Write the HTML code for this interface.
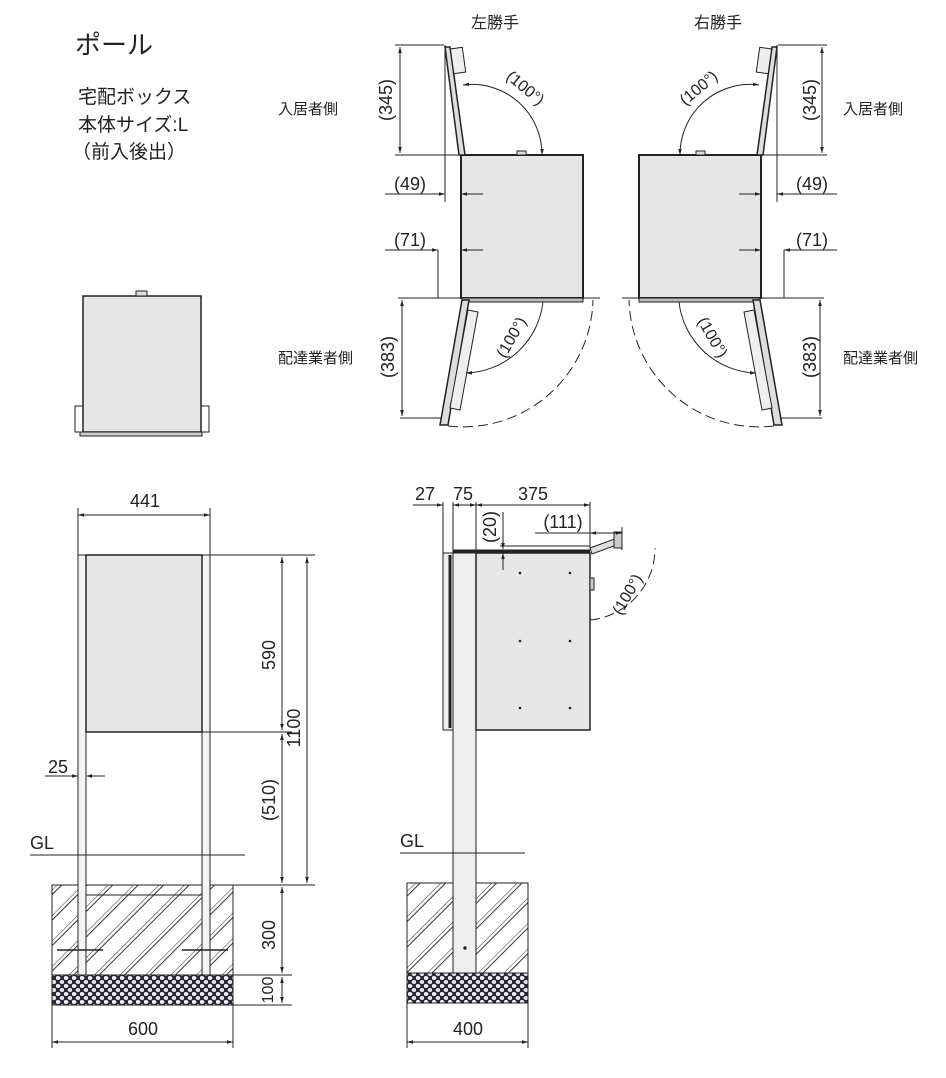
<!DOCTYPE html>
<html><head><meta charset="utf-8"><style>
html,body{margin:0;padding:0;background:#fff}
svg{display:block}
text{font-family:"Liberation Sans","Noto Sans CJK JP",sans-serif;fill:#222}
</style></head><body>
<svg width="946" height="1078" viewBox="0 0 946 1078" xmlns="http://www.w3.org/2000/svg">
<defs>
<marker id="a" viewBox="0 0 10 10" refX="10" refY="5" markerWidth="6" markerHeight="6" orient="auto-start-reverse"><path d="M0,2 L10,5 L0,8 z" fill="#222"/></marker>
<pattern id="h" width="18" height="18" patternUnits="userSpaceOnUse" patternTransform="rotate(45)">
<line x1="0" y1="0" x2="0" y2="18" stroke="#333" stroke-width="1"/><line x1="3.5" y1="0" x2="3.5" y2="18" stroke="#333" stroke-width="1"/>
</pattern>
<pattern id="g" width="8" height="8" patternUnits="userSpaceOnUse">
<rect width="8" height="8" fill="#2a2838"/>
<ellipse cx="2" cy="2" rx="2.4" ry="2" fill="#f0eef4"/><ellipse cx="6" cy="6" rx="2.4" ry="2" fill="#e4e2ea"/>
</pattern>
</defs>
<g stroke="#222" fill="none" stroke-width="1">
<text x="75" y="54" font-size="26" stroke="none">ポール</text>
<text x="78" y="103" font-size="19" stroke="none">宅配ボックス</text>
<text x="78" y="131" font-size="19" stroke="none">本体サイズ:L</text>
<text x="72" y="158" font-size="19" stroke="none">（前入後出）</text>
<text x="471" y="28" font-size="16" stroke="none">左勝手</text>
<text x="694" y="28" font-size="16" stroke="none">右勝手</text>
<text x="278" y="114" font-size="15" stroke="none">入居者側</text>
<text x="278" y="363" font-size="15" stroke="none">配達業者側</text>
<text x="843" y="114" font-size="15" stroke="none">入居者側</text>
<text x="843" y="363" font-size="15" stroke="none">配達業者側</text>

<rect x="83" y="296" width="118" height="136" fill="#e6e6e6" stroke-width="1.5"/>
<rect x="136" y="291" width="11" height="5" fill="#ddd"/>
<rect x="75" y="406" width="8" height="26"/><rect x="201" y="406" width="8" height="26"/>
<rect x="80" y="432" width="122" height="4" fill="#ccc"/>

<g id="plan">
<rect x="461" y="155" width="122" height="143" fill="#e6e6e6" stroke-width="2"/>
<rect x="517" y="151" width="9" height="4" fill="#ddd"/>
<polygon points="459,155 465,155 450,47 445,47" fill="#ddd" stroke-width="1.5"/>
<rect x="452" y="48" width="12" height="25" transform="rotate(-8 458 60)" fill="#eee"/>
<path d="M463,85 A70,70 0 0 1 542,155" marker-start="url(#a)" marker-end="url(#a)"/>
<line x1="395" y1="45" x2="444" y2="45"/><line x1="395" y1="155" x2="461" y2="155"/>
<line x1="400" y1="47" x2="400" y2="153" marker-start="url(#a)" marker-end="url(#a)"/>
<line x1="445" y1="45" x2="445" y2="202"/>
<line x1="385" y1="194" x2="445" y2="194" marker-end="url(#a)"/>
<line x1="483" y1="194" x2="461" y2="194" marker-end="url(#a)"/>
<line x1="438" y1="250" x2="438" y2="298"/>
<line x1="385" y1="250" x2="438" y2="250" marker-end="url(#a)"/>
<line x1="483" y1="250" x2="461" y2="250" marker-end="url(#a)"/>
<line x1="398" y1="298" x2="600" y2="298"/>
<rect x="462" y="298" width="121" height="4" fill="#bbb"/>
<polygon points="462,300 469,300 448,425 440,425" fill="#ddd" stroke-width="1.5"/>
<polygon points="468,310 478,312 460,410 450,408" fill="#eee"/>
<line x1="400" y1="418" x2="442" y2="418"/>
<line x1="402" y1="300" x2="402" y2="416" marker-start="url(#a)" marker-end="url(#a)"/>
<path d="M448,426 A130,130 0 0 0 593,300" stroke-dasharray="10,5"/>
<path d="M466,373 A80,80 0 0 0 543,302" marker-start="url(#a)"/>
</g>
<g transform="matrix(-1,0,0,1,1222,0)">
<use href="#plan"/>
</g>
<g stroke="none" font-size="18">
<text transform="translate(392,100) rotate(-90)" text-anchor="middle">(345)</text>
<text transform="translate(394,357) rotate(-90)" text-anchor="middle">(383)</text>
<text transform="translate(816,100) rotate(-90)" text-anchor="middle">(345)</text>
<text transform="translate(816,357) rotate(-90)" text-anchor="middle">(383)</text>
<text x="410" y="190" text-anchor="middle">(49)</text>
<text x="410" y="246" text-anchor="middle">(71)</text>
<text x="812" y="190" text-anchor="middle">(49)</text>
<text x="812" y="246" text-anchor="middle">(71)</text>
<text font-size="16" transform="translate(522,92) rotate(40)" text-anchor="middle">(100°)</text>
<text font-size="16" transform="translate(702,92) rotate(-40)" text-anchor="middle">(100°)</text>
<text font-size="16" transform="translate(516,340) rotate(-60)" text-anchor="middle">(100°)</text>
<text font-size="16" transform="translate(708,340) rotate(60)" text-anchor="middle">(100°)</text>
</g>

<rect x="52" y="885" width="181" height="90" fill="url(#h)"/>
<rect x="52" y="885" width="181" height="90"/>
<rect x="52" y="975" width="181" height="30" fill="url(#g)"/>
<line x1="86" y1="895" x2="202" y2="895"/>
<rect x="78" y="555" width="8" height="420" fill="#f4f4f4"/>
<rect x="202" y="555" width="8" height="420" fill="#f4f4f4"/>
<rect x="86" y="555" width="116" height="177" fill="#e6e6e6" stroke-width="1.5"/>
<line x1="57" y1="950" x2="103" y2="950" stroke-width="1.5"/>
<line x1="182" y1="950" x2="228" y2="950" stroke-width="1.5"/>
<line x1="78" y1="508" x2="78" y2="555"/><line x1="210" y1="508" x2="210" y2="555"/>
<line x1="78" y1="515" x2="210" y2="515" marker-start="url(#a)" marker-end="url(#a)"/>
<line x1="210" y1="555" x2="315" y2="555"/><line x1="202" y1="732" x2="292" y2="732"/>
<line x1="233" y1="885" x2="315" y2="885"/><line x1="233" y1="975" x2="292" y2="975"/><line x1="233" y1="1005" x2="292" y2="1005"/>
<line x1="282" y1="557" x2="282" y2="730" marker-start="url(#a)" marker-end="url(#a)"/>
<line x1="282" y1="734" x2="282" y2="883" marker-start="url(#a)" marker-end="url(#a)"/>
<line x1="307" y1="557" x2="307" y2="883" marker-start="url(#a)" marker-end="url(#a)"/>
<line x1="282" y1="887" x2="282" y2="973" marker-start="url(#a)" marker-end="url(#a)"/>
<line x1="282" y1="977" x2="282" y2="1003" marker-start="url(#a)" marker-end="url(#a)"/>
<line x1="45" y1="776" x2="78" y2="776" marker-end="url(#a)"/>
<line x1="105" y1="776" x2="86" y2="776" marker-end="url(#a)"/>
<line x1="30" y1="855" x2="245" y2="855"/>
<line x1="52" y1="1005" x2="52" y2="1048"/><line x1="233" y1="1005" x2="233" y2="1048"/>
<line x1="52" y1="1042" x2="233" y2="1042" marker-start="url(#a)" marker-end="url(#a)"/>
<g stroke="none" font-size="18">
<text x="145" y="507" text-anchor="middle">441</text>
<text transform="translate(275,655) rotate(-90)" text-anchor="middle">590</text>
<text transform="translate(300,728) rotate(-90)" text-anchor="middle">1100</text>
<text transform="translate(275,800) rotate(-90)" text-anchor="middle">(510)</text>
<text transform="translate(275,935) rotate(-90)" text-anchor="middle">300</text>
<text font-size="16" transform="translate(273,990) rotate(-90)" text-anchor="middle">100</text>
<text x="58" y="773" text-anchor="middle">25</text>
<text x="30" y="849">GL</text>
<text x="143" y="1035" text-anchor="middle">600</text>
</g>

<rect x="407" y="883" width="121" height="90" fill="url(#h)"/>
<rect x="407" y="883" width="121" height="90"/>
<rect x="407" y="973" width="121" height="30" fill="url(#g)"/>
<rect x="453" y="553" width="23" height="420" fill="#efefef"/>
<circle cx="465" cy="948" r="1.2" fill="#222"/>
<rect x="443" y="553" width="10" height="177" fill="#eee"/>
<line x1="450" y1="555" x2="450" y2="728" stroke-width="3"/>
<rect x="476" y="553" width="114" height="177" fill="#e6e6e6" stroke-width="1.5"/>
<line x1="453" y1="551" x2="590" y2="551" stroke-width="3"/>
<polygon points="590,548 620,537 622,543 592,554" fill="#ddd"/>
<rect x="614" y="532" width="8" height="16" fill="#ccc"/>
<rect x="590" y="578" width="4" height="12" fill="#ccc"/>
<path d="M590,620 A72,72 0 0 0 655,548" stroke-dasharray="10,5"/>
<g fill="#222" stroke="none">
<circle cx="520" cy="573" r="1.3"/><circle cx="570" cy="573" r="1.3"/><circle cx="520" cy="641" r="1.3"/><circle cx="570" cy="641" r="1.3"/><circle cx="520" cy="708" r="1.3"/><circle cx="570" cy="708" r="1.3"/>
</g>
<line x1="443" y1="502" x2="443" y2="553"/><line x1="453" y1="502" x2="453" y2="553"/><line x1="476" y1="502" x2="476" y2="553"/><line x1="590" y1="502" x2="590" y2="548"/>
<line x1="413" y1="505" x2="443" y2="505" marker-end="url(#a)"/>
<line x1="453" y1="505" x2="476" y2="505" marker-start="url(#a)" marker-end="url(#a)"/>
<line x1="476" y1="505" x2="590" y2="505" marker-start="url(#a)" marker-end="url(#a)"/>
<line x1="503" y1="512" x2="503" y2="549" marker-end="url(#a)"/>
<line x1="503" y1="570" x2="503" y2="553" marker-end="url(#a)"/>
<line x1="500" y1="546" x2="590" y2="546"/>
<line x1="622" y1="527" x2="622" y2="550"/>
<line x1="535" y1="533" x2="590" y2="533"/>
<line x1="590" y1="533" x2="622" y2="533" marker-start="url(#a)" marker-end="url(#a)"/>
<line x1="400" y1="853" x2="525" y2="853"/>
<line x1="407" y1="1003" x2="407" y2="1048"/><line x1="528" y1="1003" x2="528" y2="1048"/>
<line x1="407" y1="1042" x2="528" y2="1042" marker-start="url(#a)" marker-end="url(#a)"/>
<g stroke="none" font-size="18">
<text x="425" y="500" text-anchor="middle">27</text>
<text x="463" y="500" text-anchor="middle">75</text>
<text x="533" y="500" text-anchor="middle">375</text>
<text transform="translate(496,527) rotate(-90)" text-anchor="middle">(20)</text>
<text x="563" y="528" text-anchor="middle">(111)</text>
<text font-size="16" transform="translate(632,597) rotate(-60)" text-anchor="middle">(100°)</text>
<text x="400" y="847">GL</text>
<text x="468" y="1035" text-anchor="middle">400</text>
</g>
</g>
</svg>
</body></html>
